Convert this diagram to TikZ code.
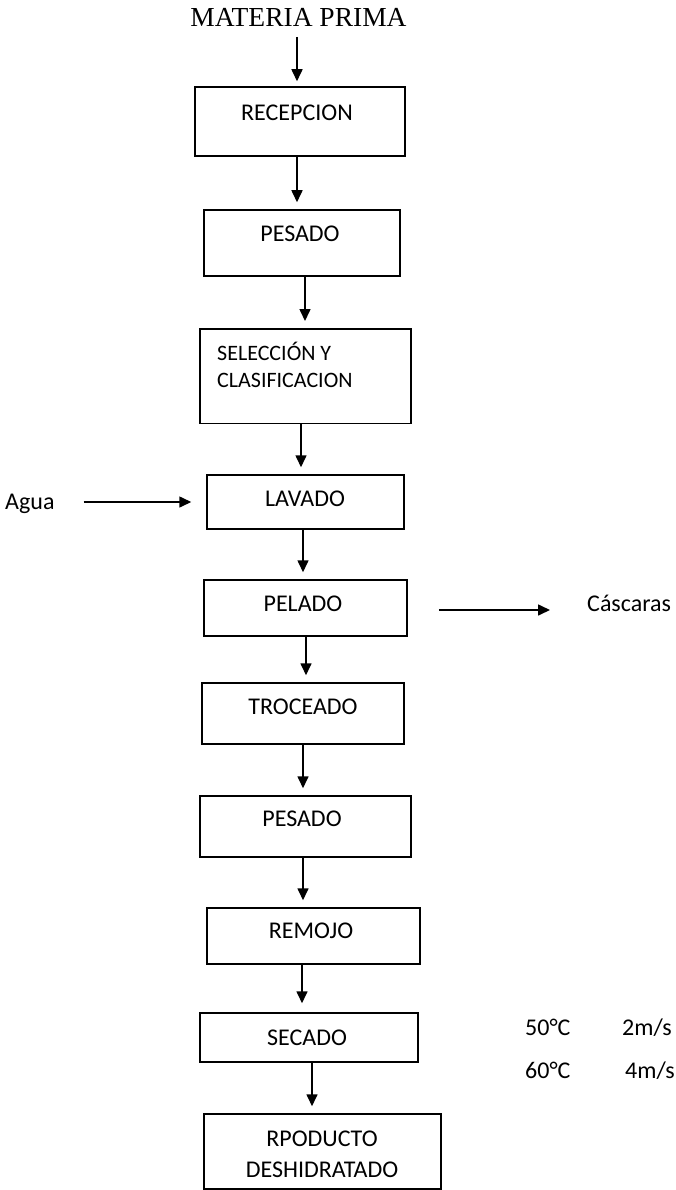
\documentclass[tikz,border=0pt]{standalone}
\usepackage{fontspec}
\setmainfont{Carlito}
\newfontfamily\titlefont{Liberation Serif}
\usetikzlibrary{arrows.meta}
\begin{document}
\begin{tikzpicture}[x=1pt,y=-1pt,
  box/.style={draw,line width=1.5pt,rectangle,inner sep=0pt},
  txt/.style={inner sep=0pt,anchor=base,font=\fontsize{24}{28}\selectfont},
  ltxt/.style={inner sep=0pt,anchor=base west,font=\fontsize{24}{28}\selectfont},
  arr/.style={line width=1.6pt,-{Triangle[length=12pt,width=11pt]},shorten >=7pt}]
\useasboundingbox (0,0) rectangle (675,1190);
\fill[white] (0,0) rectangle (675,1190);
% title
\node[inner sep=0pt,anchor=base,font=\titlefont\fontsize{27.5}{32}\selectfont] (t0) at (298.5,27) {MATERIA PRIMA};
% boxes
\node[box,minimum width=210pt,minimum height=69pt] (b1) at (300,121.5) {};
\node[box,minimum width=196pt,minimum height=66pt] (b2) at (302,243) {};
\node[box,minimum width=211pt,minimum height=94.5pt] (b3) at (305.5,376) {};
\node[box,minimum width=197pt,minimum height=54pt] (b4) at (305.5,502) {};
\node[box,minimum width=203pt,minimum height=56pt] (b5) at (305.5,608) {};
\node[box,minimum width=202pt,minimum height=61pt] (b6) at (303,713.5) {};
\node[box,minimum width=211pt,minimum height=61pt] (b7) at (305.5,826.5) {};
\node[box,minimum width=213pt,minimum height=56pt] (b8) at (313.5,936) {};
\node[box,minimum width=218pt,minimum height=49pt] (b9) at (309,1037.5) {};
\node[box,minimum width=237pt,minimum height=75pt] (b10) at (322.5,1151.5) {};
% labels
\node[txt] (l1) at (297,121) {RECEPCION};
\node[txt] (l2) at (300,242) {PESADO};
\node[inner sep=0pt,anchor=base west,font=\fontsize{22}{26}\selectfont] (l3a) at (217,360) {SELECCIÓN Y};
\node[inner sep=0pt,anchor=base west,font=\fontsize{22}{26}\selectfont] (l3b) at (217,387) {CLASIFICACION};
\node[txt] (l4) at (305,506) {LAVADO};
\node[txt] (l5) at (303,611) {PELADO};
\node[txt] (l6) at (303,714) {TROCEADO};
\node[txt] (l7) at (302,826) {PESADO};
\node[txt] (l8) at (311,938) {REMOJO};
\node[txt] (l9) at (307,1045) {SECADO};
\node[txt] (l10a) at (322,1146) {RPODUCTO};
\node[txt] (l10b) at (322,1177) {DESHIDRATADO};
% side texts
\node[ltxt] (agua) at (5,509.5) {Agua};
\node[ltxt] (casc) at (587,611) {Cáscaras};
\node[ltxt] (c50) at (525,1035) {50°C};
\node[ltxt] (v2) at (622,1035) {2m/s};
\node[ltxt] (c60) at (525,1078) {60°C};
\node[ltxt] (v4) at (625,1078) {4m/s};
% arrows
\draw[arr,shorten >=5pt] ([xshift=-1.5pt,yshift=-10pt]t0.base) -- ([xshift=-3pt]b1.north);
\draw[arr] ([xshift=-3pt]b1.south) -- ([xshift=-3pt]b1.south |- b2.north);
\draw[arr] ([xshift=3pt]b2.south) -- ([xshift=3pt]b2.south |- b3.north);
\draw[arr] ([xshift=-4.5pt]b3.south) -- ([xshift=-4.5pt]b3.south |- b4.north);
\draw[arr] ([xshift=-2.5pt]b4.south) -- ([xshift=-2.5pt]b4.south |- b5.north);
\draw[arr] ([xshift=0.5pt]b5.south) -- ([xshift=0.5pt]b5.south |- b6.north);
\draw[arr] (b6.south) -- (b6.south |- b7.north);
\draw[arr] ([xshift=-2.5pt]b7.south) -- ([xshift=-2.5pt]b7.south |- b8.north);
\draw[arr,shorten >=9pt] ([xshift=-11.5pt]b8.south) -- ([xshift=-11.5pt]b8.south |- b9.north);
\draw[arr] ([xshift=3pt]b9.south) -- ([xshift=3pt]b9.south |- b10.north);
\draw[arr,shorten >=15pt] ([xshift=29pt]agua.east |- b4.west) -- (b4.west);
\draw[arr,shorten >=0pt] ([xshift=31pt,yshift=-2pt]b5.east) -- ([xshift=-37pt,yshift=-2pt]b5.east -| casc.west);
\end{tikzpicture}
\end{document}
